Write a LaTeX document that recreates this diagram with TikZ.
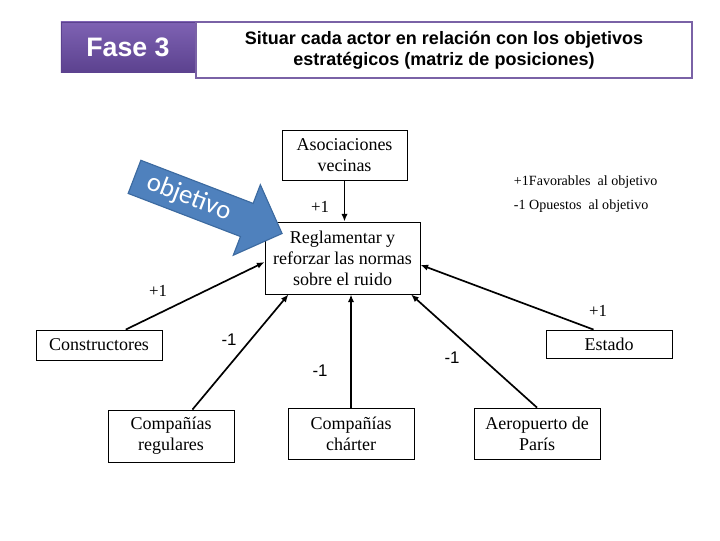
\documentclass[tikz,border=0pt]{standalone}
\usepackage{fontspec}
\setmainfont{Liberation Serif}
\setsansfont{Liberation Sans}
\newfontfamily\calfont{Carlito}
\usepackage{xcolor}
\usepackage{tikz}
\usetikzlibrary{shapes.arrows, arrows.meta, positioning}
\definecolor{FaseTop}{HTML}{7E62B3}
\definecolor{FaseBottom}{HTML}{5C428F}
\definecolor{FaseBorder}{HTML}{7A62A6}
\definecolor{GoalBlue}{HTML}{4F81BD}
\definecolor{GoalEdge}{HTML}{3C6AA0}

\begin{document}
\begin{tikzpicture}[x=0.025cm, y=-0.025cm,
  actor/.style={rectangle, draw=black, line width=0.6pt, fill=white,
    minimum width=3.15cm, align=center, inner sep=2pt,
    font=\fontsize{12.8}{15}\selectfont},
  link/.style={-{Latex[length=5.5pt,width=4.5pt]}, line width=1.2pt},
  favlabel/.style={font=\fontsize{12}{14}\selectfont},
  opplabel/.style={font=\sffamily\fontsize{12}{14}\selectfont},
  legend/.style={anchor=west, font=\fontsize{10}{11}\selectfont}
]
\useasboundingbox (0,0) rectangle (720,540);

% header
\node[rectangle, top color=FaseTop, bottom color=FaseBottom, draw=FaseBottom,
  minimum width=3.35cm, minimum height=1.25cm, text=white,
  font=\sffamily\bfseries\fontsize{19}{21}\selectfont] (fase) at (128,47) {Fase 3};
\node[rectangle, draw=FaseBorder, line width=2pt, fill=white,
  minimum width=12.4cm, minimum height=1.4cm, align=center,
  font=\sffamily\bfseries\fontsize{12.8}{15}\selectfont] (title) at (444,50)
  {Situar cada actor en relación con los objetivos\\estratégicos (matriz de posiciones)};

% objective and actors
\node[actor, minimum width=3.875cm, minimum height=1.8cm] (regl) at (342.5,258)
  {Reglamentar y\\reforzar las normas\\sobre el ruido};
\node[actor, minimum width=3.125cm, minimum height=1.25cm] (asoc) at (344.5,155)
  {Asociaciones\\vecinas};
\node[actor, minimum height=0.75cm] (cons) at (99,345) {Constructores};
\node[actor, minimum height=1.3cm] (creg) at (171,436) {Compañías\\regulares};
\node[actor, minimum height=1.275cm] (cchar) at (351,433.5) {Compañías\\chárter};
\node[actor, minimum height=1.275cm] (aero) at (537,433.5) {Aeropuerto de\\París};
\node[actor, minimum height=0.7cm] (est) at (609,344) {Estado};

\node[single arrow, draw=GoalEdge, line width=0.8pt, fill=GoalBlue, rotate=-21,
  minimum height=3.95cm, single arrow head extend=0.5cm, inner ysep=4pt,
  text=white, font=\calfont\fontsize{19}{20}\selectfont] (goal) at (200,202) {objetivo\hspace*{0.6cm}};

\draw[link] (asoc.south) -- (asoc.south |- regl.north);
\draw[link] (cons.30) -- (regl.183);
\draw[link] (creg.51) -- (regl.214);
\draw[link] (cchar.north) -- (cchar.north |- regl.south);
\draw[link] (aero.north) -- (regl.332);
\draw[link] (est.137) -- (regl.355);

% valuations
\node[favlabel] (v1) at (320,207) {+1};
\node[favlabel] (v2) at (158,291) {+1};
\node[opplabel] (v3) at (229,340) {-1};
\node[opplabel] (v4) at (320,371) {-1};
\node[opplabel] (v5) at (452,358) {-1};
\node[favlabel] (v6) at (598,311) {+1};

\node[legend] (fav) at (509,182) {+1Favorables\ \ al objetivo};
\node[legend] (opu) at (509,206) {-1 Opuestos\ \ al objetivo};

\end{tikzpicture}
\end{document}
